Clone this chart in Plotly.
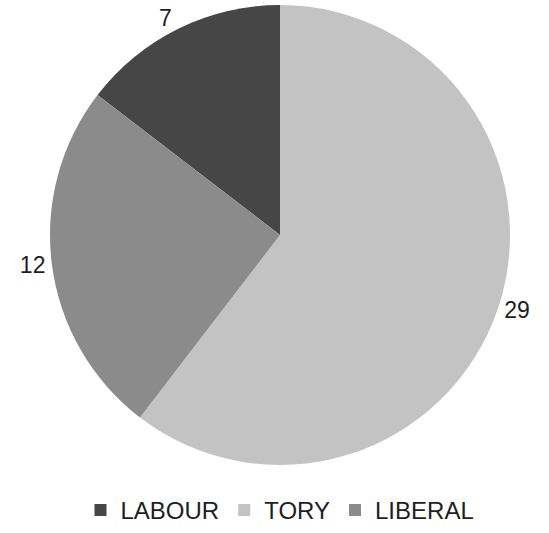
import plotly.graph_objects as go

parties = ["LABOUR", "TORY", "LIBERAL"]
seats = [7, 29, 12]
colors = ["#464646", "#c3c3c3", "#8b8b8b"]

fig = go.Figure(go.Pie(
    labels=parties,
    values=seats,
    sort=False,
    direction="clockwise",
    rotation=-360 * seats[0] / sum(seats),
    marker=dict(colors=colors, line=dict(width=0)),
    textinfo="value",
    textposition="outside",
    outsidetextfont=dict(size=23, color="#1e1e1e", family="Liberation Sans, Arial, sans-serif"),
    hole=0,
    domain=dict(x=[0, 1], y=[0, 1]),
))

fig.update_layout(
    width=549, height=533,
    margin=dict(l=0, r=0, t=0, b=60),
    paper_bgcolor="white",
    plot_bgcolor="white",
    showlegend=True,
    legend=dict(
        orientation="h",
        x=0.5, xanchor="center",
        y=-0.05, yanchor="top",
        font=dict(size=24, color="#1e1e1e", family="Liberation Sans, Arial, sans-serif"),
        itemsizing="constant",
        traceorder="normal",
    ),
)

fig.write_html("out.html")
